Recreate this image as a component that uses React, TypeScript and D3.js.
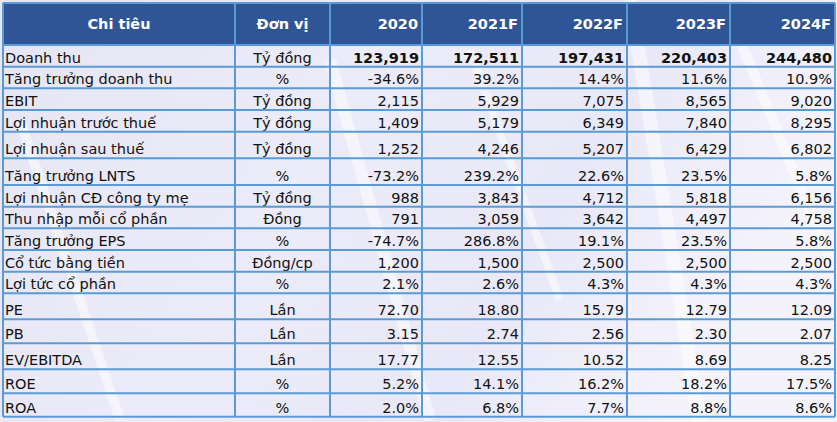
import React, { useEffect, useRef } from "react";
import * as d3 from "d3";

const headers = ["Chi tiêu", "Đơn vị", "2020", "2021F", "2022F", "2023F", "2024F"];

const categories = [
  "Doanh thu",
  "Tăng trưởng doanh thu",
  "EBIT",
  "Lợi nhuận trước thuế",
  "Lợi nhuận sau thuế",
  "Tăng trưởng LNTS",
  "Lợi nhuận CĐ công ty mẹ",
  "Thu nhập mỗi cổ phần",
  "Tăng trưởng EPS",
  "Cổ tức bằng tiền",
  "Lợi tức cổ phần",
  "PE",
  "PB",
  "EV/EBITDA",
  "ROE",
  "ROA",
];

const units = [
  "Tỷ đồng", "%", "Tỷ đồng", "Tỷ đồng", "Tỷ đồng", "%", "Tỷ đồng", "Đồng",
  "%", "Đồng/cp", "%", "Lần", "Lần", "Lần", "%", "%",
];

const v2020 = [123919, -34.6, 2115, 1409, 1252, -73.2, 988, 791, -74.7, 1200, 2.1, 72.7, 3.15, 17.77, 5.2, 2.0];
const v2021 = [172511, 39.2, 5929, 5179, 4246, 239.2, 3843, 3059, 286.8, 1500, 2.6, 18.8, 2.74, 12.55, 14.1, 6.8];
const v2022 = [197431, 14.4, 7075, 6349, 5207, 22.6, 4712, 3642, 19.1, 2500, 4.3, 15.79, 2.56, 10.52, 16.2, 7.7];
const v2023 = [220403, 11.6, 8565, 7840, 6429, 23.5, 5818, 4497, 23.5, 2500, 4.3, 12.79, 2.3, 8.69, 18.2, 8.8];
const v2024 = [244480, 10.9, 9020, 8295, 6802, 5.8, 6156, 4758, 5.8, 2500, 4.3, 12.09, 2.07, 8.25, 17.5, 8.6];

const series = [v2020, v2021, v2022, v2023, v2024];

// layout
const colEdges = [3, 235, 330, 422, 522, 627, 730, 835];
const headerTop = 3;
const headerBottom = 45;
const rowHeights = [21.7, 21.6, 21.7, 21.7, 26.6, 26.7, 21.7, 21.6, 21.7, 21.7, 21.6, 26, 24, 26, 24, 23.4];

const fmt = (v: number, unit: string) => {
  let s;
  if (unit === "%") s = d3.format(".1f")(v) + "%";
  else if (unit === "Lần") s = d3.format(".2f")(v);
  else s = d3.format(",.0f")(v);
  return s.replace("\u2212", "-");
};

const App = () => {
  const svgRef = useRef<SVGSVGElement>(null);

  useEffect(() => {
    const width = 837;
    const height = 422;
    const svg = d3.select(svgRef.current);
    svg.selectAll("*").remove();
    svg.attr("width", width).attr("height", height);

    const rowEdges = [headerBottom, ...Array.from(d3.cumsum(rowHeights), (d) => headerBottom + d)];
    const tableBottom = rowEdges[rowEdges.length - 1];

    // background
    const defs = svg.append("defs");
    const grad = defs
      .append("linearGradient")
      .attr("id", "bg")
      .attr("x1", 0)
      .attr("y1", 0)
      .attr("x2", 1)
      .attr("y2", 0.3);
    grad.append("stop").attr("offset", "0%").attr("stop-color", "#e6e5f4");
    grad.append("stop").attr("offset", "45%").attr("stop-color", "#ecebf9");
    grad.append("stop").attr("offset", "75%").attr("stop-color", "#e9e8f8");
    grad.append("stop").attr("offset", "100%").attr("stop-color", "#f4f3fc");

    svg.append("rect").attr("width", width).attr("height", height).attr("fill", "url(#bg)");

    // faint building-like streaks
    const streaks = [
      [330, 60, 430, 420, 12],
      [470, 50, 560, 300, 8],
      [630, 0, 700, 422, 14],
      [740, 40, 830, 260, 10],
      [20, 120, 120, 420, 10],
    ];
    svg
      .append("g")
      .selectAll("line")
      .data(streaks)
      .join("line")
      .attr("x1", (d) => d[0])
      .attr("y1", (d) => d[1])
      .attr("x2", (d) => d[2])
      .attr("y2", (d) => d[3])
      .attr("stroke", "#ffffff")
      .attr("stroke-width", (d) => d[4])
      .attr("opacity", 0.5);

    // header
    svg
      .append("rect")
      .attr("x", colEdges[0])
      .attr("y", headerTop)
      .attr("width", colEdges[colEdges.length - 1] - colEdges[0])
      .attr("height", headerBottom - headerTop)
      .attr("fill", "#2f5597");

    const font = "Tahoma, 'DejaVu Sans', sans-serif";

    svg
      .append("g")
      .selectAll("text")
      .data(headers)
      .join("text")
      .attr("x", (d, i) => (i < 2 ? (colEdges[i] + colEdges[i + 1]) / 2 : colEdges[i + 1] - 4))
      .attr("y", 29)
      .attr("text-anchor", (d, i) => (i < 2 ? "middle" : "end"))
      .attr("fill", "#ffffff")
      .attr("font-family", font)
      .attr("font-weight", "bold")
      .attr("font-size", 14.5)
      .text((d) => d);

    // body text
    const body = svg.append("g").attr("font-family", font).attr("font-size", 14.5).attr("fill", "#111");

    categories.forEach((c, r) => {
      const yb = rowEdges[r + 1] - 4;
      body.append("text").attr("x", 5).attr("y", yb).text(c);
      body
        .append("text")
        .attr("x", (colEdges[1] + colEdges[2]) / 2)
        .attr("y", yb)
        .attr("text-anchor", "middle")
        .text(units[r]);
      series.forEach((s, k) => {
        body
          .append("text")
          .attr("x", colEdges[k + 3] - 3)
          .attr("y", yb)
          .attr("text-anchor", "end")
          .attr("font-weight", r === 0 ? "bold" : "normal")
          .text(fmt(s[r], units[r]));
      });
    });

    // grid lines
    const grid = svg.append("g").attr("stroke", "#5b9bd5").attr("stroke-width", 2);
    grid
      .selectAll("line.h")
      .data(rowEdges)
      .join("line")
      .attr("class", "h")
      .attr("x1", colEdges[0])
      .attr("x2", colEdges[colEdges.length - 1])
      .attr("y1", (d) => d)
      .attr("y2", (d) => d);
    grid
      .selectAll("line.v")
      .data(colEdges)
      .join("line")
      .attr("class", "v")
      .attr("x1", (d) => d)
      .attr("x2", (d) => d)
      .attr("y1", headerTop)
      .attr("y2", tableBottom);
    grid
      .append("line")
      .attr("x1", colEdges[0])
      .attr("x2", colEdges[colEdges.length - 1])
      .attr("y1", headerTop)
      .attr("y2", headerTop);
  }, []);

  return (
    <svg ref={svgRef} style={{ position: "absolute", left: 0, top: 0, display: "block" }}></svg>
  );
};

export default App;
